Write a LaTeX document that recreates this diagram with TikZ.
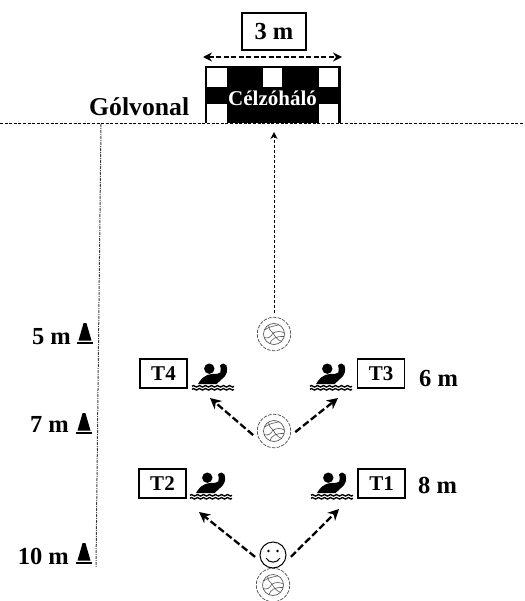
\documentclass[tikz,border=0pt]{standalone}
\usepackage{fontspec}
\setmainfont{Liberation Serif}
\usetikzlibrary{arrows.meta}
\tikzset{
  lab/.style={font=\fontsize{24.5}{28}\selectfont\bfseries,inner sep=0pt,text=black},
  tbox/.style={draw=black,line width=1.2pt,minimum width=47pt,minimum height=29pt,inner sep=0pt,font=\fontsize{21}{24}\selectfont\bfseries},
  pass/.style={draw=black,line width=2.3pt,dash pattern=on 7pt off 3pt,-{Stealth[length=11pt,width=11pt]}},
  ballnode/.style={circle,draw=gray!60!black,line width=.7pt,dash pattern=on 3.5pt off 1.3pt,minimum size=33.5pt,inner sep=0pt,outer sep=4.5pt},
  swimmer/.pic={
    \fill (17.3,5.7) circle (5.2);
    \fill (6,21) .. controls (9,16) and (12,12) .. (20,11) .. controls (24,11) and (27,11) .. (28.3,9.5)
       .. controls (29,7) and (29,4) .. (28,2.5) .. controls (30,0) and (33.5,0) .. (34.5,2.5)
       .. controls (36,8) and (35,12) .. (30,16) .. controls (28,18) and (26,19.5) .. (24.5,21) -- cycle;
    \foreach \yy in {23.3,26.3}{
      \draw[line width=1.4pt] (0,\yy) \foreach \xx in {0,6,12,18,24,30,36}{ .. controls (\xx+2,\yy-2.6) and (\xx+4,\yy+2.6) .. (\xx+6,\yy)};
    }
  },
  ballart/.pic={
    \draw[gray!70!black,line width=.7pt] (0,0) circle (10.5);
    \draw[gray!70!black,line width=.6pt]
      (-9.5,-4) .. controls (-4,-8) and (1,-8) .. (5,-9.2)
      (-1,-1) .. controls (-4,-4) and (-6,-6) .. (-5.5,-9)
      (-1,-1) .. controls (3,-3) and (7,-3) .. (10.3,-1)
      (-1,-1) .. controls (-3,3) and (-6,5) .. (-10,3.5)
      (-1,-1) .. controls (1,3) and (4,6) .. (7.5,7.5)
      (-4,9.7) .. controls (-3,5) and (2,2) .. (10.2,2.5);
  },
  cone/.pic={
    \fill (-1.4,0) -- (1.4,0) -- (6.5,17.5) -- (-6.5,17.5) -- cycle;
    \fill (-8,18.5) rectangle (8,20.8);
  }
}
\begin{document}
\begin{tikzpicture}[x=1pt,y=-1pt]
\useasboundingbox (0,0) rectangle (524,601);
% goal
\fill[black] (205,66) rectangle (341,123);
\fill[white] (207,68) rectangle (227,87);
\fill[white] (263,68) rectangle (282,87);
\fill[white] (319,68) rectangle (338,87);
\fill[white] (207,104) rectangle (227,123);
\fill[white] (319,104) rectangle (338,123);
\node[lab,text=white,font=\fontsize{21}{24}\selectfont\bfseries] (net) at (272.5,98) {Célzóháló};
% lines
\coordinate (glL) at (0,123.5);
\coordinate (glR) at (524,123.5);
\draw[black,line width=.8pt,dash pattern=on 3pt off 1.6pt] (glL) -- (glR);
\coordinate (sideT) at (101,124);
\coordinate (sideB) at (96,567);
\draw[gray!50!black,line width=1pt,dash pattern=on 3pt off 1pt on 1pt off 1pt] (sideT) -- (sideB);
% width
\node[draw=black,line width=1.2pt,minimum width=64pt,minimum height=37pt,inner sep=0pt,font=\fontsize{24.5}{28}\selectfont\bfseries] (w) at (274,31.5) {3 m};
\coordinate (wL) at (203,57);
\coordinate (wR) at (342,57);
\draw[line width=2pt,dash pattern=on 5pt off 2.5pt,{Stealth[length=9pt,width=9pt]}-{Stealth[length=9pt,width=9pt]}] (wL) -- (wR);
\node[lab,anchor=base west,font=\fontsize{25.7}{28}\selectfont\bfseries] (gol) at (89,116) {Gólvonal};
% balls
\node[ballnode] (b1) at (274,334) {};
\pic at (274,334) {ballart};
\node[ballnode] (b2) at (274,431) {};
\pic at (274,431) {ballart};
\node[ballnode] (b3) at (273,585) {};
\pic at (273,585) {ballart};
% smiley
\node[circle,draw=black,line width=1pt,minimum size=26pt,inner sep=0pt,outer sep=5pt] (s) at (273,555) {};
\fill (268.5,551) circle (1.4);
\fill (277.5,551) circle (1.4);
\draw[line width=1pt] (266,558) .. controls (269,563.5) and (277,563.5) .. (280,558);
% boxes
\node[tbox] (t4) at (163.5,373.5) {T4};
\node[tbox] (t3) at (381,373.5) {T3};
\node[tbox] (t2) at (162.5,483.5) {T2};
\node[tbox] (t1) at (381.5,483.5) {T1};
% swimmers
\pic at (192,363) {swimmer};
\pic at (310,363) {swimmer};
\pic at (190,472) {swimmer};
\pic at (311,472) {swimmer};
% arrows
\coordinate (goalT) at (274,132);
\draw[black,line width=.9pt,dash pattern=on 3pt off 2pt,-{Stealth[length=7pt,width=7pt]}] (b1) -- (goalT);
\coordinate (tip4) at (210,398);
\coordinate (tip3) at (338,398);
\coordinate (tip2) at (199,512);
\coordinate (tip1) at (339,509);
\draw[pass] (b2.191) -- (tip4);
\draw[pass] (b2.357) -- (tip3);
\draw[pass] (s.186) -- (tip2);
\draw[pass] (s.354) -- (tip1);
% distances
\node[lab,anchor=base east] (d5) at (71,344) {5 m};
\node[lab,anchor=base east] (d7) at (69,432) {7 m};
\node[lab,anchor=base east] (d10) at (69,564) {10 m};
\node[lab,anchor=base west] (d6) at (419,386) {6 m};
\node[lab,anchor=base west] (d8) at (418,493) {8 m};
% cones
\pic at (85,323) {cone};
\pic at (84,413) {cone};
\pic at (84,543) {cone};
\end{tikzpicture}
\end{document}
